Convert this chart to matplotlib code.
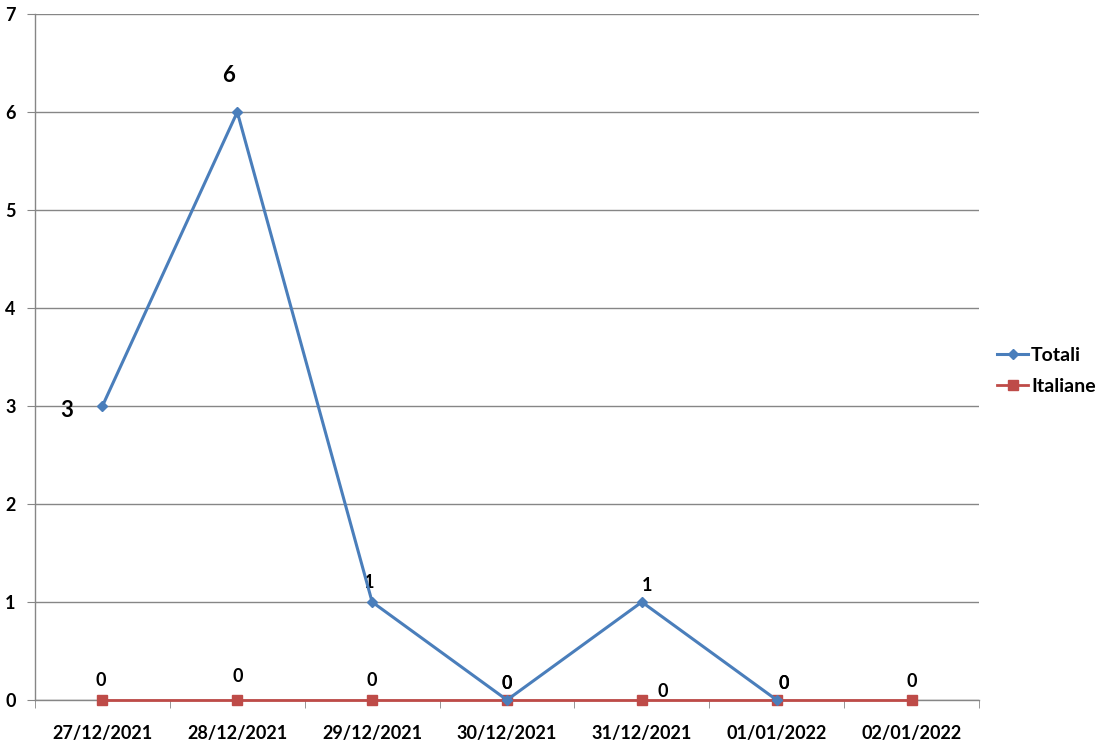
import matplotlib
matplotlib.use("Agg")
import matplotlib.pyplot as plt
import numpy as np

categories = ["27/12/2021", "28/12/2021", "29/12/2021", "30/12/2021",
              "31/12/2021", "01/01/2022", "02/01/2022"]
totali = [3, 6, 1, 0, 1, 0, None]
italiane = [0, 0, 0, 0, 0, 0, 0]
y_ticks = [0, 1, 2, 3, 4, 5, 6, 7]

plt.rcParams['font.family'] = ['Lato', 'DejaVu Sans']

fig = plt.figure(figsize=(11.01, 7.48), dpi=100)
ax = fig.add_axes([35/1101, 48/748, (979-35)/1101, (700-14)/748])

x = np.arange(len(categories))
tot = np.array([np.nan if v is None else v for v in totali], dtype=float)
blue = "#4A7EBB"
red = "#BE4B48"

ax.plot(x, italiane, color=red, lw=2, marker='s', ms=7, label="Italiane",
        zorder=5, clip_on=False)
ax.plot(x, tot, color=blue, lw=2.2, marker='D', ms=5, label="Totali",
        zorder=6, clip_on=False)

ax.set_xlim(-0.5, len(categories) - 0.5)
ax.set_ylim(0, 7)
ax.set_yticks(y_ticks)
ax.set_yticklabels([str(v) for v in y_ticks], fontsize=13, fontweight='bold')
ax.set_xticks(x)
ax.set_xticklabels(categories, fontsize=13, fontweight='bold')
ax.tick_params(axis='x', length=0, pad=18)
ax.set_xticks(np.arange(len(categories) + 1) - 0.5, minor=True)
ax.tick_params(axis='x', which='minor', length=6, color='#868686')
ax.tick_params(axis='y', length=6, color='#868686', pad=8)

ax.grid(axis='y', color='#868686', lw=1)
ax.set_axisbelow(True)
for s in ['top', 'right']:
    ax.spines[s].set_visible(False)
for s in ['left', 'bottom']:
    ax.spines[s].set_color('#868686')
    ax.spines[s].set_linewidth(1)
    ax.spines[s].set_zorder(1)

# data labels: Totali
tot_offsets = [(-26, -3, 16), (-6, 26, 16), (-2, 14, 13), (0, 12, 13), (4, 12, 13), (5, 12, 13)]
for i, v in enumerate(totali):
    if v is None:
        continue
    dx, dy, fs = tot_offsets[i]
    ax.annotate(str(v), (x[i], v), xytext=(dx, dy), textcoords='offset points',
                ha='center', va='center', fontsize=fs, fontweight='bold', color='black',
                annotation_clip=False)
# data labels: Italiane
ita_offsets = [(-1, 14), (0, 17), (0, 14), (0, 12), (15, 6), (5, 12), (0, 13)]
for i, v in enumerate(italiane):
    dx, dy = ita_offsets[i]
    ax.annotate(str(v), (x[i], v), xytext=(dx, dy), textcoords='offset points',
                ha='center', va='center', fontsize=13, fontweight='bold', color='black',
                annotation_clip=False)

handles, labels = ax.get_legend_handles_labels()
leg = fig.legend(handles[::-1], labels[::-1], loc='center left',
                 bbox_to_anchor=(997/1101, 1 - 371/748), frameon=False,
                 prop={'size': 14, 'weight': 'bold'}, handlelength=1.6,
                 handletextpad=0.15, labelspacing=0.7,
                 borderaxespad=0, borderpad=0)

fig.savefig("out.png", dpi=100)
